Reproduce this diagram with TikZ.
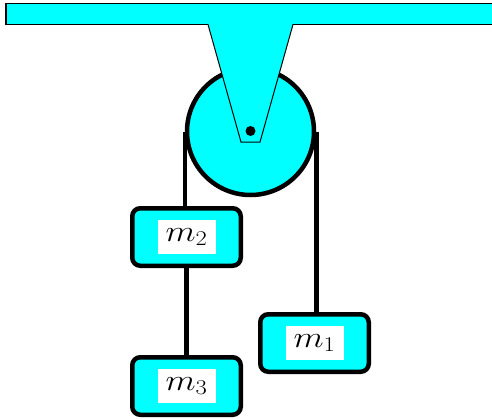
\RequirePackage{fix-cm}
\documentclass[tikz,border=0pt]{standalone}
\usepackage{graphicx}
\definecolor{aqua}{RGB}{0,255,255}
\newcommand{\wmass}[1]{\scalebox{1.17}[1]{$#1$}}
\begin{document}
\begin{tikzpicture}[x=1pt,y=-1pt,
  mass/.style={draw=black,fill=aqua,line width=4.5pt,rounded corners=8pt,
    minimum width=108.5pt,minimum height=57.5pt,inner sep=0pt},
  masslabel/.style={fill=white,inner sep=0pt,minimum width=58pt,minimum height=34pt,
    font=\fontsize{30}{34}\selectfont},
  rope/.style={line width=4.5pt,draw=black}]
\useasboundingbox (0,0) rectangle (492,418);
\clip (0,0) rectangle (492,418);
% ceiling
\draw[fill=aqua,line width=1.3pt] (6,3.8) rectangle (520,24.5);
% pulley
\node[circle,draw=black,fill=aqua,line width=4.5pt,minimum size=127pt,inner sep=0pt] (pulley) at (250.5,131.5) {};
% bracket
\fill[aqua] (208,23.5) -- (293,23.5) -- (260,142) -- (241,142) -- cycle;
\draw[line width=1pt] (208,24.5) -- (241,142) -- (260,142) -- (293,24.5);
\node[circle,fill=black,inner sep=0pt,minimum size=10pt] (axle) at (250.5,131) {};
% masses
\node[mass] (m2) at (186.5,237) {};
\node[mass] (m3) at (186.5,386) {};
\node[mass] (m1) at (314.5,343) {};
\node[masslabel] (l2) at (m2) {\wmass{m_2}};
\node[masslabel] (l3) at (m3) {\wmass{m_3}};
\node[masslabel] (l1) at (m1) {\wmass{m_1}};
% ropes
\coordinate (tl) at (pulley.west);
\coordinate (tr) at (pulley.east);
\draw[rope] (tl) -- (tl |- m2.north);
\draw[rope] (tr) -- (tr |- m1.north);
\draw[rope] (m2.south) -- (m3.north);
\end{tikzpicture}
\end{document}
